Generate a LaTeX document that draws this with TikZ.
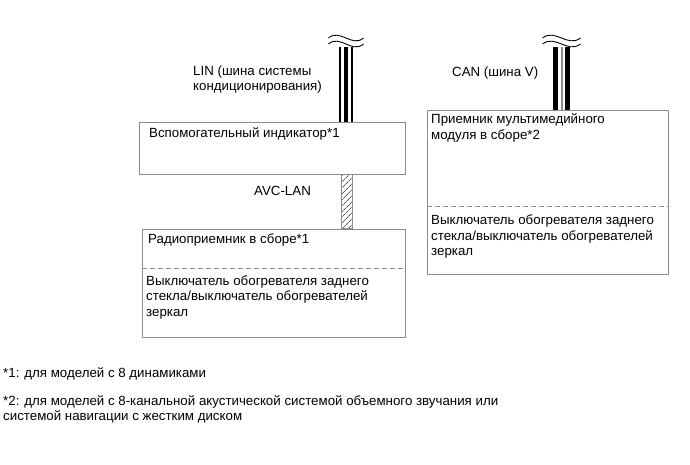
\documentclass[tikz,border=0pt]{standalone}
\usepackage{fontspec}
\setmainfont{Liberation Sans}
\usetikzlibrary{patterns.meta}
\definecolor{framegray}{HTML}{8C8C8C}
\begin{document}
\begin{tikzpicture}[x=1pt, y=-1pt, font=\fontsize{13.3}{15.5}\selectfont,
    unit/.style={draw=framegray, line width=0.9pt, inner sep=0pt},
    txt/.style={anchor=base west, align=left, inner sep=0pt},
    split/.style={draw=framegray, line width=0.9pt, dash pattern=on 5pt off 3pt},
    wave/.style={line width=0.9pt}]
  \useasboundingbox (0,0) rectangle (690,464);
  \node[unit, minimum width=266pt, minimum height=52pt] (aux) at (272,148) {};
  \node[unit, minimum width=263pt, minimum height=108pt] (radio) at (273.5,283) {};
  \node[unit, minimum width=241pt, minimum height=164pt] (media) at (547.5,192) {};
  \coordinate (radiosplit) at (0,268);
  \coordinate (mediasplit) at (0,206);
  \draw[split] (radio.west |- radiosplit) -- (radio.east |- radiosplit);
  \draw[split] (media.west |- mediasplit) -- (media.east |- mediasplit);

  \coordinate (lin) at (346,47);
  \coordinate (can) at (561.5,47);
  \coordinate (avc) at (346.5,0);
  \foreach \dx/\w/\c in {-6/1.4/black, 0/4.2/black, 6/1.4/black}
    \draw[line width=\w pt, draw=\c] ([xshift=\dx pt]lin) -- ([xshift=\dx pt]lin |- aux.north);
  \foreach \dx/\w/\c in {-6/4.3/black, 0/2/framegray, 6/4.3/black}
    \draw[line width=\w pt, draw=\c] ([xshift=\dx pt]can) -- ([xshift=\dx pt]can |- media.north);
  \foreach \wire/\h in {lin/17.5, can/19}{
    \begin{scope}[shift={(\wire)}]
      \foreach \dy in {-9,-3}
        \draw[wave] (-\h,\dy) .. controls (-6,\dy-10) and (6,\dy+10) .. (\h,\dy);
    \end{scope}
  }
  \draw[framegray, line width=0.6pt, pattern={Lines[angle=45,distance=4pt,line width=0.6pt]}]
    ([xshift=-5.5pt]avc |- aux.south) rectangle ([xshift=5.5pt]avc |- radio.north);

  \node[txt] (linlbl) at (193,90.5) {LIN (шина системы\\кондиционирования)};
  \node[txt] (canlbl) at (452,76) {CAN (шина V)};
  \node[txt] (avclbl) at (254,195) {AVC-LAN};
  \node[txt] (auxtxt) at (149,137.5) {Вспомогательный индикатор*1};
  \node[txt] (radiotxt) at (148,243.5) {Радиоприемник в сборе*1};
  \node[txt] (radiosw) at (146,316) {Выключатель обогревателя заднего\\стекла/выключатель обогревателей\\зеркал};
  \node[txt] (mediatxt) at (431,139) {Приемник мультимедийного\\модуля в сборе*2};
  \node[txt] (mediasw) at (431,255.5) {Выключатель обогревателя заднего\\стекла/выключатель обогревателей\\зеркал};
  \node[txt] (note1) at (3,377) {*1: для моделей с 8 динамиками};
  \node[txt] (note2) at (3,420.5) {*2: для моделей с 8-канальной акустической системой объемного звучания или\\системой навигации с жестким диском};
\end{tikzpicture}
\end{document}
